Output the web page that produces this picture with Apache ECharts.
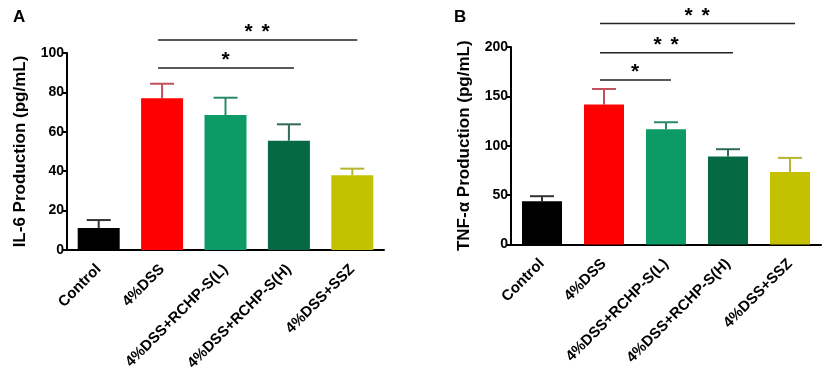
<!DOCTYPE html>
<html>
<head>
<meta charset="utf-8">
<script src="https://cdn.jsdelivr.net/npm/echarts@6/dist/echarts.min.js"></script>
<style>
  html, body { margin: 0; padding: 0; background: #fff; }
  #chart { width: 829px; height: 378px; }
</style>
</head>
<body>
<div id="chart"></div>
<script>
// 组别
var groups = ['Control', '4%DSS', '4%DSS+RCHP-S(L)', '4%DSS+RCHP-S(H)', '4%DSS+SSZ'];
var barColors = ['#000000', '#fe0000', '#0c9b66', '#056a44', '#c4c200'];
var errColors = ['#333333', '#c2505a', '#2a8a66', '#2f6b57', '#b4b430'];

// A: IL-6
var il6Mean = [11.2, 77, 68.5, 55.5, 37.9];
var il6Err = [4, 7.4, 8.8, 8.3, 3.4];
var il6Ticks = [0, 20, 40, 60, 80, 100];
// 显著性: [起点组, 终点组, 线的高度]
var il6Sig = [[1, 4, 106.6], [1, 3, 92.4]];
var il6Stars = [2, 1];

// B: TNF-α
var tnfMean = [43.8, 141.7, 116.7, 89, 73.5];
var tnfErr = [5.1, 15.8, 7.1, 7.5, 14.2];
var tnfTicks = [0, 50, 100, 150, 200];
var tnfSig = [[1, 4, 223.7], [1, 3, 194.3], [1, 2, 166.6]];
var tnfStars = [2, 2, 1];

var FONT = 'Liberation Sans, Arial, sans-serif';

function xAxisCfg(gridIndex) {
  return {
    type: 'category',
    gridIndex: gridIndex,
    data: groups,
    axisLine: { lineStyle: { color: '#000', width: 2 } },
    axisTick: { alignWithLabel: true, length: 5, lineStyle: { color: '#000', width: 2 } },
    axisLabel: {
      rotate: 45,
      margin: 17,
      interval: 0,
      color: '#000',
      fontFamily: FONT,
      fontWeight: 'bold',
      fontSize: 15,
    },
  };
}

function yAxisCfg(gridIndex, ticks, name) {
  return {
    type: 'value',
    gridIndex: gridIndex,
    min: ticks[0],
    max: ticks[ticks.length - 1],
    interval: ticks[1] - ticks[0],
    name: name,
    nameLocation: 'middle',
    nameRotate: 90,
    nameGap: 38,
    nameTextStyle: { color: '#000', fontFamily: FONT, fontWeight: 'bold', fontSize: 17 },
    splitLine: { show: false },
    axisLine: { show: true, lineStyle: { color: '#000', width: 2 } },
    axisTick: { show: true, length: 5, lineStyle: { color: '#000', width: 2 } },
    axisLabel: { color: '#000', fontFamily: FONT, fontWeight: 'bold', fontSize: 14, margin: 3 },
  };
}

function barSeries(idx, mean, width) {
  return {
    type: 'bar',
    xAxisIndex: idx,
    yAxisIndex: idx,
    barWidth: width,
    z: 2,
    data: mean.map(function (v, i) {
      return { value: v, itemStyle: { color: barColors[i] } };
    }),
  };
}

// 误差线，只画上半部分
function errSeries(idx, mean, err) {
  return {
    type: 'custom',
    xAxisIndex: idx,
    yAxisIndex: idx,
    z: 1,
    data: mean.map(function (v, i) { return [i, v, v + err[i]]; }),
    renderItem: function (params, api) {
      var p0 = api.coord([api.value(0), api.value(1)]);
      var p1 = api.coord([api.value(0), api.value(2)]);
      var c = errColors[params.dataIndex];
      var st = { stroke: c, lineWidth: 2 };
      return {
        type: 'group',
        children: [
          { type: 'line', shape: { x1: p0[0], y1: p0[1], x2: p1[0], y2: p1[1] }, style: st },
          { type: 'line', shape: { x1: p1[0] - 12, y1: p1[1], x2: p1[0] + 12, y2: p1[1] }, style: st },
        ],
      };
    },
  };
}

function sigSeries(idx, sig, stars) {
  return {
    type: 'custom',
    xAxisIndex: idx,
    yAxisIndex: idx,
    clip: false,
    z: 3,
    data: sig,
    renderItem: function (params, api) {
      var a = api.coord([api.value(0), api.value(2)]);
      var b = api.coord([api.value(1), api.value(2)]);
      var n = stars[params.dataIndex];
      var cx = (a[0] + b[0]) / 2;
      var children = [
        { type: 'line', shape: { x1: a[0] - 4, y1: a[1], x2: b[0] + 5, y2: b[1] }, style: { stroke: '#222', lineWidth: 1.5 } },
      ];
      for (var k = 0; k < n; k++) {
        children.push({
          type: 'text',
          style: {
            x: cx + (k - (n - 1) / 2) * 17,
            y: a[1] + 3,
            text: '*',
            fill: '#000',
            font: 'bold 21px ' + FONT,
            textAlign: 'center',
            textVerticalAlign: 'bottom',
          },
        });
      }
      return { type: 'group', children: children };
    },
  };
}

var chart = echarts.init(document.getElementById('chart'));
chart.setOption({
  animation: false,
  title: [
    { text: 'A', left: 8, top: 4, textStyle: { fontFamily: FONT, fontWeight: 'bold', fontSize: 17, color: '#000' } },
    { text: 'B', left: 449, top: 4, textStyle: { fontFamily: FONT, fontWeight: 'bold', fontSize: 17, color: '#000' } },
  ],
  grid: [
    { left: 67, top: 53, width: 317, height: 197 },
    { left: 511, top: 47, width: 310, height: 197.5 },
  ],
  xAxis: [xAxisCfg(0), xAxisCfg(1)],
  yAxis: [
    yAxisCfg(0, il6Ticks, 'IL-6 Production (pg/mL)'),
    yAxisCfg(1, tnfTicks, 'TNF-α Production (pg/mL)'),
  ],
  series: [
    barSeries(0, il6Mean, 42),
    errSeries(0, il6Mean, il6Err),
    sigSeries(0, il6Sig, il6Stars),
    barSeries(1, tnfMean, 40),
    errSeries(1, tnfMean, tnfErr),
    sigSeries(1, tnfSig, tnfStars),
  ],
});
</script>
</body>
</html>
